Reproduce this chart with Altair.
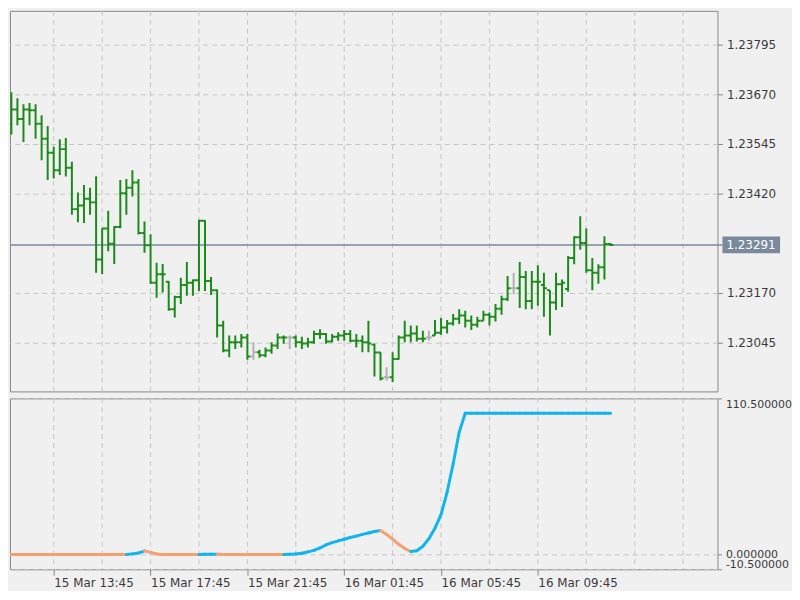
import altair as alt
import pandas as pd

# ---------------- data ----------------
bar_times = pd.date_range("2018-03-15 11:45", periods=101, freq="15min")

opens = [1.23548, 1.23596, 1.23632, 1.23608, 1.23632, 1.23630, 1.23596, 1.23558, 1.23523, 1.23479,
         1.23532, 1.23485, 1.23381, 1.23390, 1.23407, 1.23398, 1.23254, 1.23332, 1.23294, 1.23336,
         1.23421, 1.23435, 1.23448, 1.23321, 1.23290, 1.23196, 1.23217, 1.23198, 1.23129, 1.23160,
         1.23190, 1.23196, 1.23202, 1.23352, 1.23200, 1.23177, 1.23088, 1.23025, 1.23046, 1.23046,
         1.23058, 1.23010, 1.23021, 1.23013, 1.23025, 1.23038, 1.23058, 1.23058, 1.23058, 1.23046,
         1.23043, 1.23046, 1.23067, 1.23067, 1.23048, 1.23060, 1.23063, 1.23067, 1.23050, 1.23050,
         1.23046, 1.23040, 1.23020, 1.22958, 1.22958, 1.23004, 1.23058, 1.23063, 1.23068, 1.23055,
         1.23058, 1.23063, 1.23070, 1.23083, 1.23093, 1.23105, 1.23113, 1.23100, 1.23090, 1.23100,
         1.23115, 1.23110, 1.23130, 1.23154, 1.23182, 1.23182, 1.23210, 1.23150, 1.23198, 1.23190,
         1.23177, 1.23146, 1.23192, 1.23180, 1.23258, 1.23310, 1.23296, 1.23227, 1.23221, 1.23235,
         1.23293]

highs = [1.23625, 1.23675, 1.23660, 1.23645, 1.23648, 1.23645, 1.23617, 1.23590, 1.23538, 1.23557,
         1.23560, 1.23500, 1.23423, 1.23442, 1.23435, 1.23464, 1.23333, 1.23377, 1.23338, 1.23454,
         1.23457, 1.23479, 1.23457, 1.23350, 1.23318, 1.23246, 1.23243, 1.23200, 1.23163, 1.23208,
         1.23248, 1.23204, 1.23354, 1.23353, 1.23210, 1.23179, 1.23100, 1.23063, 1.23063, 1.23067,
         1.23067, 1.23046, 1.23027, 1.23033, 1.23046, 1.23068, 1.23063, 1.23063, 1.23063, 1.23060,
         1.23057, 1.23075, 1.23079, 1.23069, 1.23067, 1.23071, 1.23077, 1.23077, 1.23067, 1.23063,
         1.23100, 1.23042, 1.23021, 1.22983, 1.23021, 1.23063, 1.23100, 1.23088, 1.23088, 1.23075,
         1.23075, 1.23102, 1.23107, 1.23102, 1.23117, 1.23129, 1.23125, 1.23113, 1.23110, 1.23125,
         1.23121, 1.23142, 1.23163, 1.23213, 1.23221, 1.23248, 1.23225, 1.23225, 1.23240, 1.23221,
         1.23177, 1.23221, 1.23204, 1.23263, 1.23313, 1.23363, 1.23332, 1.23258, 1.23242, 1.23313,
         1.23296]

lows = [1.23517, 1.23569, 1.23592, 1.23550, 1.23592, 1.23558, 1.23504, 1.23454, 1.23458, 1.23467,
        1.23463, 1.23367, 1.23348, 1.23346, 1.23367, 1.23221, 1.23218, 1.23275, 1.23243, 1.23333,
        1.23367, 1.23413, 1.23317, 1.23271, 1.23193, 1.23158, 1.23171, 1.23125, 1.23108, 1.23142,
        1.23163, 1.23163, 1.23175, 1.23175, 1.23165, 1.23058, 1.23021, 1.23008, 1.23029, 1.23033,
        1.23002, 1.23002, 1.23007, 1.23008, 1.23017, 1.23029, 1.23042, 1.23029, 1.23033, 1.23029,
        1.23033, 1.23042, 1.23054, 1.23042, 1.23046, 1.23050, 1.23050, 1.23046, 1.23033, 1.23021,
        1.23021, 1.22960, 1.22950, 1.22950, 1.22946, 1.23002, 1.23046, 1.23046, 1.23048, 1.23046,
        1.23050, 1.23063, 1.23065, 1.23068, 1.23088, 1.23092, 1.23083, 1.23077, 1.23083, 1.23100,
        1.23088, 1.23098, 1.23115, 1.23150, 1.23167, 1.23132, 1.23129, 1.23129, 1.23138, 1.23110,
        1.23063, 1.23127, 1.23135, 1.23173, 1.23242, 1.23279, 1.23221, 1.23177, 1.23193, 1.23204,
        1.23288]

closes = [1.23596, 1.23632, 1.23608, 1.23632, 1.23630, 1.23596, 1.23558, 1.23523, 1.23479, 1.23532,
          1.23485, 1.23381, 1.23390, 1.23407, 1.23398, 1.23254, 1.23332, 1.23294, 1.23336, 1.23421,
          1.23435, 1.23448, 1.23321, 1.23290, 1.23196, 1.23217, 1.23217, 1.23129, 1.23160, 1.23190,
          1.23196, 1.23202, 1.23352, 1.23200, 1.23177, 1.23088, 1.23025, 1.23046, 1.23046, 1.23058,
          1.23010, 1.23021, 1.23013, 1.23025, 1.23038, 1.23058, 1.23058, 1.23058, 1.23046, 1.23043,
          1.23046, 1.23067, 1.23067, 1.23048, 1.23060, 1.23063, 1.23067, 1.23050, 1.23050, 1.23046,
          1.23043, 1.23020, 1.22955, 1.22958, 1.23004, 1.23058, 1.23063, 1.23068, 1.23055, 1.23055,
          1.23058, 1.23070, 1.23083, 1.23093, 1.23105, 1.23113, 1.23100, 1.23090, 1.23100, 1.23115,
          1.23110, 1.23130, 1.23154, 1.23182, 1.23182, 1.23210, 1.23150, 1.23198, 1.23198, 1.23182,
          1.23146, 1.23192, 1.23196, 1.23258, 1.23310, 1.23296, 1.23227, 1.23221, 1.23235, 1.23293,
          1.23291]

grey_bar_index = [41, 47, 63, 70, 84]

indicator = [0, 0, 0, 0, 0, 0, 0, 0, 0, 0,
             0, 0, 0, 0, 0, 0, 0, 0, 0, 0,
             0, 0.4, 1.0, 2.5, 1.5, 0.3, 0, 0, 0, 0,
             0, 0, 0, 0.1, 0.2, 0.2, 0, 0, 0, 0,
             0, 0, 0, 0, 0, 0, 0, 0.1, 0.3, 0.8,
             1.8, 2.9, 4.6, 6.8, 8.4, 9.6, 10.8, 12.0, 13.0, 14.2,
             15.2, 16.2, 16.9, 14.2, 10.8, 7.2, 4.2, 2.1, 2.6, 5.8,
             11.2, 18.6, 28.2, 44.0, 64.0, 86.5, 100, 100, 100, 100,
             100, 100, 100, 100, 100, 100, 100, 100, 100, 100,
             100, 100, 100, 100, 100, 100, 100, 100, 100, 100,
             100]

# colour of each segment (segment i joins point i and i+1)
segment_trend = (["down"] * 20 + ["up"] * 3 + ["down"] * 9 + ["up"] * 3 +
                 ["down"] * 11 + ["up"] * 16 + ["down"] * 5 + ["up"] * 33)

current_price = 1.23291
price_ticks = [1.23795, 1.23670, 1.23545, 1.23420, 1.23170, 1.23045]
indicator_ticks = [110.5, 0.0, -10.5]
grid_times = pd.date_range("2018-03-15 13:45", "2018-03-16 15:45", freq="2h")
label_times = pd.date_range("2018-03-15 13:45", periods=6, freq="4h")

# ---------------- styling ----------------
FONT = "DejaVu Sans"
TXT = "#3a3a3a"
FRAME = "#878787"
GRID = "#c6c6c6"
GREEN = "#1b8a1b"
GREY = "#b2b2b2"
PRICE = "#7a8a9c"
BLUE = "#12b4ee"
ORANGE = "#f4a070"
BG = "#f0f0f0"

W = 712
H_TOP = 383
H_LOW = 172


def dt(t):
    return alt.DateTime(year=t.year, month=t.month, date=t.day,
                        hours=t.hour, minutes=t.minute, seconds=t.second)


x_scale = alt.Scale(domain=[dt(pd.Timestamp("2018-03-15 11:56:35")),
                            dt(pd.Timestamp("2018-03-16 17:10:12"))], nice=False)
y_top_scale = alt.Scale(domain=[1.2292225, 1.2388], nice=False, zero=False)
y_low_scale = alt.Scale(domain=[-10.5, 110.5], nice=False, zero=False)

axis_top = alt.Axis(orient="right", values=price_ticks, format=".5f", title=None,
                    grid=True, gridColor=GRID, gridDash=[5, 4], domain=False,
                    tickSize=5, tickColor=FRAME, labelPadding=4, labelFont=FONT,
                    labelFontSize=12, labelColor=TXT, labelOverlap=False, labelFlush=False)
axis_low = alt.Axis(orient="right", values=indicator_ticks,
                    labelExpr="replace(format(datum.value, '.6f'), '\u2212', '-')",
                    title=None, grid=True, gridColor=GRID, gridDash=[5, 4], domain=False,
                    tickSize=4, tickColor=FRAME, labelPadding=4, labelFont=FONT,
                    labelFontSize=11, labelColor=TXT, labelOverlap=False, labelFlush=True)
axis_x = alt.Axis(values=[dt(t) for t in label_times], format="%d %b %H:%M", title=None,
                  grid=False, domain=False, tickSize=6, tickColor=FRAME, labelAlign="left",
                  labelBaseline="top", labelPadding=2, labelFont=FONT, labelFontSize=12,
                  labelColor=TXT, labelOverlap=False, labelFlush=False, labelBound=False)

# ---------------- tables ----------------
bars = pd.DataFrame({"t": bar_times, "open": opens, "high": highs, "low": lows, "close": closes})
bars["kind"] = ["grey" if i in grey_bar_index else "green" for i in range(len(bars))]
grid_df = pd.DataFrame({"t": grid_times})
price_df = pd.DataFrame({"p": [current_price]})
seg_df = pd.DataFrame({"t0": bar_times[:-1], "t1": bar_times[1:],
                       "v0": indicator[:-1], "v1": indicator[1:], "trend": segment_trend})

bar_color = alt.Color("kind:N", scale=alt.Scale(domain=["green", "grey"], range=[GREEN, GREY]),
                      legend=None)

# ---------------- top panel ----------------
vgrid_top = alt.Chart(grid_df).mark_rule(color=GRID, strokeDash=[5, 4], strokeWidth=1).encode(
    x=alt.X("t:T", scale=x_scale, axis=None))

price_line = alt.Chart(price_df).mark_rule(color=PRICE, strokeWidth=1.5).encode(
    y=alt.Y("p:Q", scale=y_top_scale, axis=axis_top), x=alt.value(0), x2=alt.value(717))

base = alt.Chart(bars)
hl = base.mark_rule(strokeWidth=2, clip=True).encode(
    x=alt.X("t:T", scale=x_scale, axis=None),
    y=alt.Y("high:Q", scale=y_top_scale, axis=axis_top), y2="low:Q", color=bar_color)
op = base.mark_rule(strokeWidth=2, xOffset=-3, x2Offset=0, clip=True).encode(
    x=alt.X("t:T", scale=x_scale, axis=None), x2="t:T",
    y=alt.Y("open:Q", scale=y_top_scale, axis=axis_top), color=bar_color)
cl = base.mark_rule(strokeWidth=2, xOffset=0, x2Offset=3, clip=True).encode(
    x=alt.X("t:T", scale=x_scale, axis=None), x2="t:T",
    y=alt.Y("close:Q", scale=y_top_scale, axis=axis_top), color=bar_color)

price_box = alt.Chart(price_df).mark_rect(color=PRICE, yOffset=-8.5, y2Offset=8.5).encode(
    x=alt.value(717), x2=alt.value(775),
    y=alt.Y("p:Q", scale=y_top_scale, axis=axis_top), y2="p:Q")
price_txt = alt.Chart(price_df).mark_text(align="left", baseline="middle", color="white",
                                          font=FONT, fontSize=12).encode(
    x=alt.value(721), y=alt.Y("p:Q", scale=y_top_scale, axis=axis_top),
    text=alt.Text("p:Q", format=".5f"))

top = alt.layer(vgrid_top, price_line, hl, op, cl, price_box, price_txt).properties(
    width=W, height=H_TOP)

# ---------------- lower panel ----------------
vgrid_low = alt.Chart(grid_df).mark_rule(color=GRID, strokeDash=[5, 4], strokeWidth=1).encode(
    x=alt.X("t:T", scale=x_scale, axis=axis_x))
segs = alt.Chart(seg_df).mark_rule(strokeWidth=3, strokeCap="round", clip=True).encode(
    x=alt.X("t0:T", scale=x_scale, axis=axis_x), x2="t1:T",
    y=alt.Y("v0:Q", scale=y_low_scale, axis=axis_low), y2="v1:Q",
    color=alt.Color("trend:N", scale=alt.Scale(domain=["up", "down"], range=[BLUE, ORANGE]),
                    legend=None))

low = alt.layer(vgrid_low, segs).properties(width=W, height=H_LOW)

chart = alt.vconcat(top, low, spacing=5, padding=0, background=BG).resolve_scale(
    color="independent").configure_view(stroke=FRAME, strokeWidth=1)

chart.save("out.html", embed_options={"renderer": "svg", "actions": False})
